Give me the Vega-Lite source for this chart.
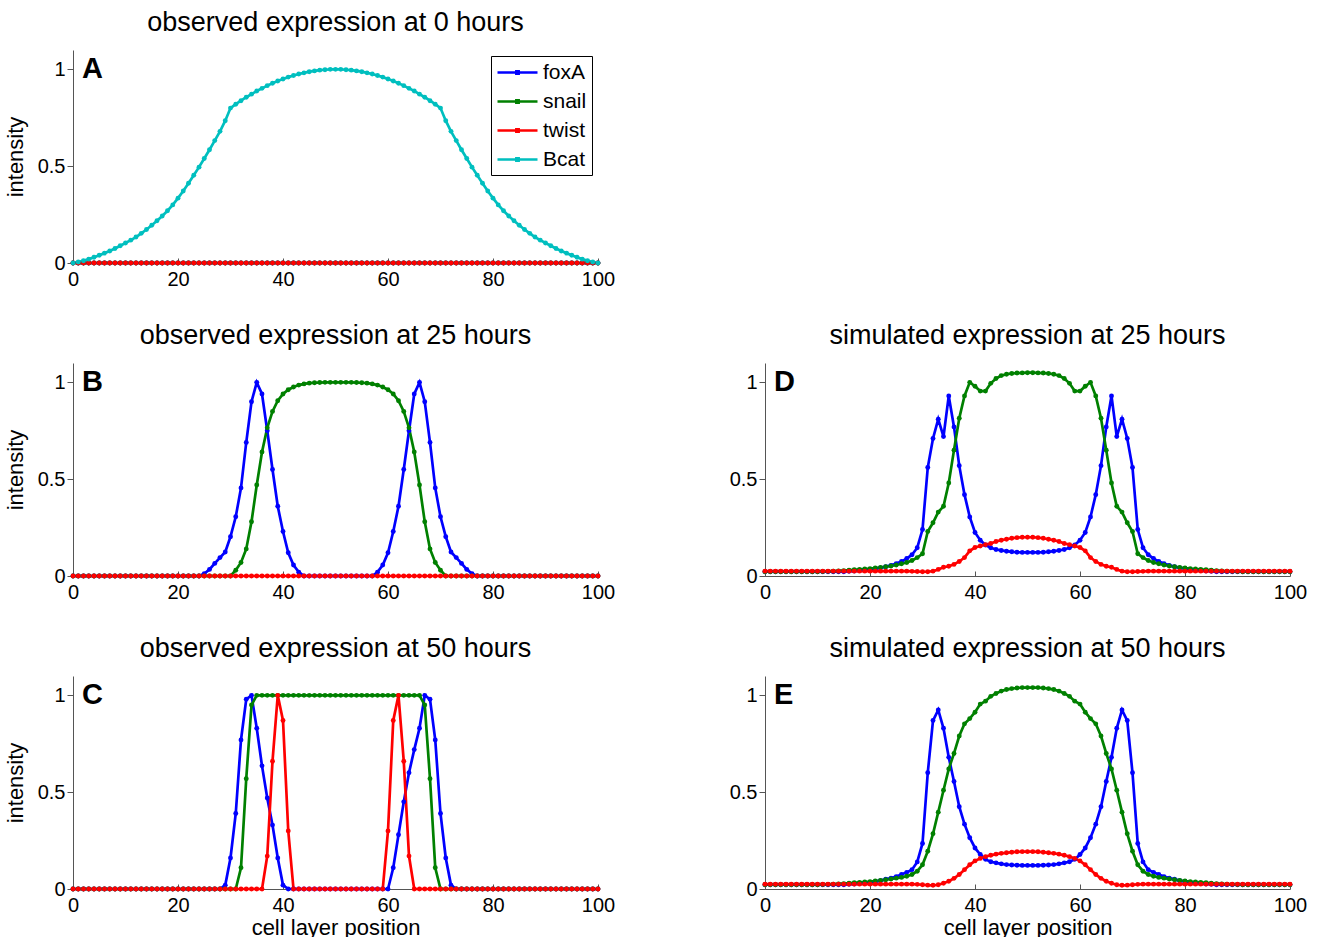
{
"$schema":"https://vega.github.io/schema/vega-lite/v6.json",
"background":"white",
"padding":{"left":4,"top":9,"right":5,"bottom":5},
"columns":2,
"spacing":{"row":100,"column":167},
"bounds":"flush",
"resolve":{"scale":{"color":"independent"},"legend":{"color":"independent"}},
"config":{
"view":{"stroke":null},
"font":"Liberation Sans",
"axis":{"grid":false,"domainColor":"#555555","tickColor":"#555555","domainWidth":1,"tickWidth":1,"labelFontSize":20,"titleFontSize":22,"titleFontWeight":"normal","labelColor":"#000","titleColor":"#000","labelFont":"Liberation Sans","titleFont":"Liberation Sans","labelFlush":false,"labelOverlap":false},
"axisX":{"tickSize":-5,"labelPadding":11,"titlePadding":2},
"axisY":{"tickSize":6,"labelPadding":2,"titlePadding":10},
"title":{"fontSize":27,"fontWeight":"normal","font":"Liberation Sans","offset":13,"color":"#000","anchor":"middle"}
},
"concat":[
{"title":"observed expression at 0 hours","width":525,"height":213,
"layer":[
{"data":{"values":[
{"x":0,"foxA":0,"snail":0,"twist":0,"Bcat":0},{"x":1,"foxA":0,"snail":0,"twist":0,"Bcat":0.005},{"x":2,"foxA":0,"snail":0,"twist":0,"Bcat":0.012},{"x":3,"foxA":0,"snail":0,"twist":0,"Bcat":0.02},{"x":4,"foxA":0,"snail":0,"twist":0,"Bcat":0.03},{"x":5,"foxA":0,"snail":0,"twist":0,"Bcat":0.04},{"x":6,"foxA":0,"snail":0,"twist":0,"Bcat":0.051},{"x":7,"foxA":0,"snail":0,"twist":0,"Bcat":0.062},{"x":8,"foxA":0,"snail":0,"twist":0,"Bcat":0.075},{"x":9,"foxA":0,"snail":0,"twist":0,"Bcat":0.089},
{"x":10,"foxA":0,"snail":0,"twist":0,"Bcat":0.103},{"x":11,"foxA":0,"snail":0,"twist":0,"Bcat":0.118},{"x":12,"foxA":0,"snail":0,"twist":0,"Bcat":0.134},{"x":13,"foxA":0,"snail":0,"twist":0,"Bcat":0.153},{"x":14,"foxA":0,"snail":0,"twist":0,"Bcat":0.173},{"x":15,"foxA":0,"snail":0,"twist":0,"Bcat":0.195},{"x":16,"foxA":0,"snail":0,"twist":0,"Bcat":0.218},{"x":17,"foxA":0,"snail":0,"twist":0,"Bcat":0.243},{"x":18,"foxA":0,"snail":0,"twist":0,"Bcat":0.27},{"x":19,"foxA":0,"snail":0,"twist":0,"Bcat":0.3},
{"x":20,"foxA":0,"snail":0,"twist":0,"Bcat":0.335},{"x":21,"foxA":0,"snail":0,"twist":0,"Bcat":0.372},{"x":22,"foxA":0,"snail":0,"twist":0,"Bcat":0.412},{"x":23,"foxA":0,"snail":0,"twist":0,"Bcat":0.453},{"x":24,"foxA":0,"snail":0,"twist":0,"Bcat":0.495},{"x":25,"foxA":0,"snail":0,"twist":0,"Bcat":0.54},{"x":26,"foxA":0,"snail":0,"twist":0,"Bcat":0.585},{"x":27,"foxA":0,"snail":0,"twist":0,"Bcat":0.632},{"x":28,"foxA":0,"snail":0,"twist":0,"Bcat":0.68},{"x":29,"foxA":0,"snail":0,"twist":0,"Bcat":0.735},
{"x":30,"foxA":0,"snail":0,"twist":0,"Bcat":0.8},{"x":31,"foxA":0,"snail":0,"twist":0,"Bcat":0.82},{"x":32,"foxA":0,"snail":0,"twist":0,"Bcat":0.838},{"x":33,"foxA":0,"snail":0,"twist":0,"Bcat":0.856},{"x":34,"foxA":0,"snail":0,"twist":0,"Bcat":0.872},{"x":35,"foxA":0,"snail":0,"twist":0,"Bcat":0.888},{"x":36,"foxA":0,"snail":0,"twist":0,"Bcat":0.902},{"x":37,"foxA":0,"snail":0,"twist":0,"Bcat":0.916},{"x":38,"foxA":0,"snail":0,"twist":0,"Bcat":0.928},{"x":39,"foxA":0,"snail":0,"twist":0,"Bcat":0.94},
{"x":40,"foxA":0,"snail":0,"twist":0,"Bcat":0.95},{"x":41,"foxA":0,"snail":0,"twist":0,"Bcat":0.96},{"x":42,"foxA":0,"snail":0,"twist":0,"Bcat":0.968},{"x":43,"foxA":0,"snail":0,"twist":0,"Bcat":0.976},{"x":44,"foxA":0,"snail":0,"twist":0,"Bcat":0.982},{"x":45,"foxA":0,"snail":0,"twist":0,"Bcat":0.988},{"x":46,"foxA":0,"snail":0,"twist":0,"Bcat":0.992},{"x":47,"foxA":0,"snail":0,"twist":0,"Bcat":0.996},{"x":48,"foxA":0,"snail":0,"twist":0,"Bcat":0.998},{"x":49,"foxA":0,"snail":0,"twist":0,"Bcat":1},
{"x":50,"foxA":0,"snail":0,"twist":0,"Bcat":1},{"x":51,"foxA":0,"snail":0,"twist":0,"Bcat":1},{"x":52,"foxA":0,"snail":0,"twist":0,"Bcat":0.998},{"x":53,"foxA":0,"snail":0,"twist":0,"Bcat":0.996},{"x":54,"foxA":0,"snail":0,"twist":0,"Bcat":0.992},{"x":55,"foxA":0,"snail":0,"twist":0,"Bcat":0.988},{"x":56,"foxA":0,"snail":0,"twist":0,"Bcat":0.982},{"x":57,"foxA":0,"snail":0,"twist":0,"Bcat":0.976},{"x":58,"foxA":0,"snail":0,"twist":0,"Bcat":0.968},{"x":59,"foxA":0,"snail":0,"twist":0,"Bcat":0.96},
{"x":60,"foxA":0,"snail":0,"twist":0,"Bcat":0.95},{"x":61,"foxA":0,"snail":0,"twist":0,"Bcat":0.94},{"x":62,"foxA":0,"snail":0,"twist":0,"Bcat":0.928},{"x":63,"foxA":0,"snail":0,"twist":0,"Bcat":0.916},{"x":64,"foxA":0,"snail":0,"twist":0,"Bcat":0.902},{"x":65,"foxA":0,"snail":0,"twist":0,"Bcat":0.888},{"x":66,"foxA":0,"snail":0,"twist":0,"Bcat":0.872},{"x":67,"foxA":0,"snail":0,"twist":0,"Bcat":0.856},{"x":68,"foxA":0,"snail":0,"twist":0,"Bcat":0.838},{"x":69,"foxA":0,"snail":0,"twist":0,"Bcat":0.82},
{"x":70,"foxA":0,"snail":0,"twist":0,"Bcat":0.8},{"x":71,"foxA":0,"snail":0,"twist":0,"Bcat":0.735},{"x":72,"foxA":0,"snail":0,"twist":0,"Bcat":0.68},{"x":73,"foxA":0,"snail":0,"twist":0,"Bcat":0.632},{"x":74,"foxA":0,"snail":0,"twist":0,"Bcat":0.585},{"x":75,"foxA":0,"snail":0,"twist":0,"Bcat":0.54},{"x":76,"foxA":0,"snail":0,"twist":0,"Bcat":0.495},{"x":77,"foxA":0,"snail":0,"twist":0,"Bcat":0.453},{"x":78,"foxA":0,"snail":0,"twist":0,"Bcat":0.412},{"x":79,"foxA":0,"snail":0,"twist":0,"Bcat":0.372},
{"x":80,"foxA":0,"snail":0,"twist":0,"Bcat":0.335},{"x":81,"foxA":0,"snail":0,"twist":0,"Bcat":0.3},{"x":82,"foxA":0,"snail":0,"twist":0,"Bcat":0.27},{"x":83,"foxA":0,"snail":0,"twist":0,"Bcat":0.243},{"x":84,"foxA":0,"snail":0,"twist":0,"Bcat":0.218},{"x":85,"foxA":0,"snail":0,"twist":0,"Bcat":0.195},{"x":86,"foxA":0,"snail":0,"twist":0,"Bcat":0.173},{"x":87,"foxA":0,"snail":0,"twist":0,"Bcat":0.153},{"x":88,"foxA":0,"snail":0,"twist":0,"Bcat":0.134},{"x":89,"foxA":0,"snail":0,"twist":0,"Bcat":0.118},
{"x":90,"foxA":0,"snail":0,"twist":0,"Bcat":0.103},{"x":91,"foxA":0,"snail":0,"twist":0,"Bcat":0.089},{"x":92,"foxA":0,"snail":0,"twist":0,"Bcat":0.075},{"x":93,"foxA":0,"snail":0,"twist":0,"Bcat":0.062},{"x":94,"foxA":0,"snail":0,"twist":0,"Bcat":0.051},{"x":95,"foxA":0,"snail":0,"twist":0,"Bcat":0.04},{"x":96,"foxA":0,"snail":0,"twist":0,"Bcat":0.03},{"x":97,"foxA":0,"snail":0,"twist":0,"Bcat":0.02},{"x":98,"foxA":0,"snail":0,"twist":0,"Bcat":0.012},{"x":99,"foxA":0,"snail":0,"twist":0,"Bcat":0.005},
{"x":100,"foxA":0,"snail":0,"twist":0,"Bcat":0}
]},
"transform":[{"fold":["foxA","snail","twist","Bcat"],"as":["gene","v"]}],
"mark":{"type":"line","strokeWidth":2.7,"point":{"filled":true,"size":24}},
"encoding":{
"x":{"field":"x","type":"quantitative","scale":{"domain":[0,100]},"axis":{"values":[0,20,40,60,80,100],"title":null}},
"y":{"field":"v","type":"quantitative","scale":{"domain":[0,1.1],"nice":false},"axis":{"values":[0,0.5,1],"format":"~g","title":"intensity"}},
"color":{"field":"gene","type":"nominal","scale":{"domain":["foxA","snail","twist","Bcat"],"range":["#0000ff","#008000","#ff0000","#00bfbf"]},
"legend":{"orient":"top-right","offset":6,"title":null,"symbolType":"M-2,0H2M-0.12,-0.12H0.12V0.12H-0.12Z","symbolSize":400,"symbolOffset":10,"symbolStrokeWidth":2.5,"labelFontSize":21,"labelFont":"Liberation Sans","labelColor":"#000","rowPadding":7,"padding":5,"strokeColor":"#000","fillColor":"#fff","labelOffset":14}}
}},
{"data":{"values":[{"label":"A"}]},"mark":{"type":"text","fontSize":29,"fontWeight":"bold","align":"left","baseline":"alphabetic","font":"Liberation Sans","color":"#000"},
"encoding":{"x":{"datum":1.7,"type":"quantitative"},"y":{"datum":0.955,"type":"quantitative"},"text":{"field":"label"}}}
]},
{"width":525,"height":213,"data":{"values":[{}]},"mark":{"type":"point","opacity":0},"encoding":{}},
{"title":"observed expression at 25 hours","width":525,"height":213,
"layer":[
{"data":{"values":[
{"x":0,"foxA":0,"snail":0,"twist":0},{"x":1,"foxA":0,"snail":0,"twist":0},{"x":2,"foxA":0,"snail":0,"twist":0},{"x":3,"foxA":0,"snail":0,"twist":0},{"x":4,"foxA":0,"snail":0,"twist":0},{"x":5,"foxA":0,"snail":0,"twist":0},{"x":6,"foxA":0,"snail":0,"twist":0},{"x":7,"foxA":0,"snail":0,"twist":0},{"x":8,"foxA":0,"snail":0,"twist":0},{"x":9,"foxA":0,"snail":0,"twist":0},
{"x":10,"foxA":0,"snail":0,"twist":0},{"x":11,"foxA":0,"snail":0,"twist":0},{"x":12,"foxA":0,"snail":0,"twist":0},{"x":13,"foxA":0,"snail":0,"twist":0},{"x":14,"foxA":0,"snail":0,"twist":0},{"x":15,"foxA":0,"snail":0,"twist":0},{"x":16,"foxA":0,"snail":0,"twist":0},{"x":17,"foxA":0,"snail":0,"twist":0},{"x":18,"foxA":0,"snail":0,"twist":0},{"x":19,"foxA":0,"snail":0,"twist":0},
{"x":20,"foxA":0,"snail":0,"twist":0},{"x":21,"foxA":0,"snail":0,"twist":0},{"x":22,"foxA":0,"snail":0,"twist":0},{"x":23,"foxA":0,"snail":0,"twist":0},{"x":24,"foxA":0,"snail":0,"twist":0},{"x":25,"foxA":0.012,"snail":0,"twist":0},{"x":26,"foxA":0.034,"snail":0,"twist":0},{"x":27,"foxA":0.065,"snail":0,"twist":0},{"x":28,"foxA":0.095,"snail":0,"twist":0},{"x":29,"foxA":0.124,"snail":0,"twist":0},
{"x":30,"foxA":0.203,"snail":0,"twist":0},{"x":31,"foxA":0.306,"snail":0.03,"twist":0},{"x":32,"foxA":0.455,"snail":0.07,"twist":0},{"x":33,"foxA":0.69,"snail":0.14,"twist":0},{"x":34,"foxA":0.9,"snail":0.28,"twist":0},{"x":35,"foxA":1,"snail":0.47,"twist":0},{"x":36,"foxA":0.94,"snail":0.64,"twist":0},{"x":37,"foxA":0.75,"snail":0.765,"twist":0},{"x":38,"foxA":0.55,"snail":0.85,"twist":0},{"x":39,"foxA":0.36,"snail":0.905,"twist":0},
{"x":40,"foxA":0.23,"snail":0.94,"twist":0},{"x":41,"foxA":0.12,"snail":0.962,"twist":0},{"x":42,"foxA":0.057,"snail":0.976,"twist":0},{"x":43,"foxA":0.02,"snail":0.986,"twist":0},{"x":44,"foxA":0,"snail":0.992,"twist":0},{"x":45,"foxA":0,"snail":0.996,"twist":0},{"x":46,"foxA":0,"snail":0.998,"twist":0},{"x":47,"foxA":0,"snail":0.999,"twist":0},{"x":48,"foxA":0,"snail":1,"twist":0},{"x":49,"foxA":0,"snail":1,"twist":0},
{"x":50,"foxA":0,"snail":1,"twist":0},{"x":51,"foxA":0,"snail":1,"twist":0},{"x":52,"foxA":0,"snail":1,"twist":0},{"x":53,"foxA":0,"snail":1,"twist":0},{"x":54,"foxA":0,"snail":0.999,"twist":0},{"x":55,"foxA":0,"snail":0.998,"twist":0},{"x":56,"foxA":0,"snail":0.996,"twist":0},{"x":57,"foxA":0,"snail":0.992,"twist":0},{"x":58,"foxA":0.02,"snail":0.986,"twist":0},{"x":59,"foxA":0.057,"snail":0.976,"twist":0},
{"x":60,"foxA":0.12,"snail":0.962,"twist":0},{"x":61,"foxA":0.23,"snail":0.94,"twist":0},{"x":62,"foxA":0.36,"snail":0.905,"twist":0},{"x":63,"foxA":0.55,"snail":0.85,"twist":0},{"x":64,"foxA":0.75,"snail":0.765,"twist":0},{"x":65,"foxA":0.94,"snail":0.64,"twist":0},{"x":66,"foxA":1,"snail":0.47,"twist":0},{"x":67,"foxA":0.9,"snail":0.28,"twist":0},{"x":68,"foxA":0.69,"snail":0.14,"twist":0},{"x":69,"foxA":0.455,"snail":0.07,"twist":0},
{"x":70,"foxA":0.306,"snail":0.03,"twist":0},{"x":71,"foxA":0.203,"snail":0,"twist":0},{"x":72,"foxA":0.124,"snail":0,"twist":0},{"x":73,"foxA":0.095,"snail":0,"twist":0},{"x":74,"foxA":0.065,"snail":0,"twist":0},{"x":75,"foxA":0.034,"snail":0,"twist":0},{"x":76,"foxA":0.012,"snail":0,"twist":0},{"x":77,"foxA":0,"snail":0,"twist":0},{"x":78,"foxA":0,"snail":0,"twist":0},{"x":79,"foxA":0,"snail":0,"twist":0},
{"x":80,"foxA":0,"snail":0,"twist":0},{"x":81,"foxA":0,"snail":0,"twist":0},{"x":82,"foxA":0,"snail":0,"twist":0},{"x":83,"foxA":0,"snail":0,"twist":0},{"x":84,"foxA":0,"snail":0,"twist":0},{"x":85,"foxA":0,"snail":0,"twist":0},{"x":86,"foxA":0,"snail":0,"twist":0},{"x":87,"foxA":0,"snail":0,"twist":0},{"x":88,"foxA":0,"snail":0,"twist":0},{"x":89,"foxA":0,"snail":0,"twist":0},
{"x":90,"foxA":0,"snail":0,"twist":0},{"x":91,"foxA":0,"snail":0,"twist":0},{"x":92,"foxA":0,"snail":0,"twist":0},{"x":93,"foxA":0,"snail":0,"twist":0},{"x":94,"foxA":0,"snail":0,"twist":0},{"x":95,"foxA":0,"snail":0,"twist":0},{"x":96,"foxA":0,"snail":0,"twist":0},{"x":97,"foxA":0,"snail":0,"twist":0},{"x":98,"foxA":0,"snail":0,"twist":0},{"x":99,"foxA":0,"snail":0,"twist":0},
{"x":100,"foxA":0,"snail":0,"twist":0}
]},
"transform":[{"fold":["foxA","snail","twist"],"as":["gene","v"]}],
"mark":{"type":"line","strokeWidth":2.7,"point":{"filled":true,"size":24}},
"encoding":{
"x":{"field":"x","type":"quantitative","scale":{"domain":[0,100]},"axis":{"values":[0,20,40,60,80,100],"title":null}},
"y":{"field":"v","type":"quantitative","scale":{"domain":[0,1.1],"nice":false},"axis":{"values":[0,0.5,1],"format":"~g","title":"intensity"}},
"color":{"field":"gene","type":"nominal","scale":{"domain":["foxA","snail","twist"],"range":["#0000ff","#008000","#ff0000"]},"legend":null}
}},
{"data":{"values":[{"label":"B"}]},"mark":{"type":"text","fontSize":29,"fontWeight":"bold","align":"left","baseline":"alphabetic","font":"Liberation Sans","color":"#000"},
"encoding":{"x":{"datum":1.7,"type":"quantitative"},"y":{"datum":0.955,"type":"quantitative"},"text":{"field":"label"}}}
]},
{"title":"simulated expression at 25 hours","width":525,"height":213,
"layer":[
{"data":{"values":[
{"x":0,"foxA":0.022,"snail":0.022,"twist":0.025},{"x":1,"foxA":0.022,"snail":0.022,"twist":0.025},{"x":2,"foxA":0.022,"snail":0.022,"twist":0.025},{"x":3,"foxA":0.022,"snail":0.022,"twist":0.025},{"x":4,"foxA":0.022,"snail":0.022,"twist":0.025},{"x":5,"foxA":0.022,"snail":0.022,"twist":0.025},{"x":6,"foxA":0.022,"snail":0.022,"twist":0.025},{"x":7,"foxA":0.022,"snail":0.022,"twist":0.025},{"x":8,"foxA":0.022,"snail":0.022,"twist":0.025},{"x":9,"foxA":0.022,"snail":0.022,"twist":0.025},
{"x":10,"foxA":0.022,"snail":0.022,"twist":0.025},{"x":11,"foxA":0.022,"snail":0.023,"twist":0.025},{"x":12,"foxA":0.022,"snail":0.024,"twist":0.025},{"x":13,"foxA":0.022,"snail":0.025,"twist":0.025},{"x":14,"foxA":0.022,"snail":0.026,"twist":0.025},{"x":15,"foxA":0.022,"snail":0.028,"twist":0.025},{"x":16,"foxA":0.024,"snail":0.03,"twist":0.025},{"x":17,"foxA":0.026,"snail":0.032,"twist":0.025},{"x":18,"foxA":0.028,"snail":0.034,"twist":0.025},{"x":19,"foxA":0.031,"snail":0.036,"twist":0.025},
{"x":20,"foxA":0.034,"snail":0.038,"twist":0.025},{"x":21,"foxA":0.038,"snail":0.041,"twist":0.025},{"x":22,"foxA":0.042,"snail":0.044,"twist":0.025},{"x":23,"foxA":0.048,"snail":0.048,"twist":0.025},{"x":24,"foxA":0.055,"snail":0.052,"twist":0.025},{"x":25,"foxA":0.064,"snail":0.057,"twist":0.025},{"x":26,"foxA":0.075,"snail":0.063,"twist":0.025},{"x":27,"foxA":0.09,"snail":0.07,"twist":0.025},{"x":28,"foxA":0.11,"snail":0.08,"twist":0.024},{"x":29,"foxA":0.146,"snail":0.095,"twist":0.023},
{"x":30,"foxA":0.24,"snail":0.115,"twist":0.022},{"x":31,"foxA":0.56,"snail":0.23,"twist":0.022},{"x":32,"foxA":0.71,"snail":0.275,"twist":0.025},{"x":33,"foxA":0.81,"snail":0.33,"twist":0.034},{"x":34,"foxA":0.72,"snail":0.36,"twist":0.045},{"x":35,"foxA":0.93,"snail":0.48,"twist":0.05},{"x":36,"foxA":0.77,"snail":0.65,"twist":0.06},{"x":37,"foxA":0.57,"snail":0.815,"twist":0.075},{"x":38,"foxA":0.42,"snail":0.93,"twist":0.095},{"x":39,"foxA":0.305,"snail":1.0,"twist":0.13},
{"x":40,"foxA":0.225,"snail":0.98,"twist":0.147},{"x":41,"foxA":0.185,"snail":0.955,"twist":0.155},{"x":42,"foxA":0.16,"snail":0.955,"twist":0.162},{"x":43,"foxA":0.146,"snail":0.995,"twist":0.168},{"x":44,"foxA":0.137,"snail":1.02,"twist":0.178},{"x":45,"foxA":0.132,"snail":1.035,"twist":0.185},{"x":46,"foxA":0.128,"snail":1.042,"twist":0.19},{"x":47,"foxA":0.125,"snail":1.046,"twist":0.195},{"x":48,"foxA":0.123,"snail":1.048,"twist":0.198},{"x":49,"foxA":0.122,"snail":1.049,"twist":0.2},
{"x":50,"foxA":0.122,"snail":1.05,"twist":0.2},{"x":51,"foxA":0.122,"snail":1.05,"twist":0.2},{"x":52,"foxA":0.122,"snail":1.049,"twist":0.198},{"x":53,"foxA":0.123,"snail":1.048,"twist":0.195},{"x":54,"foxA":0.125,"snail":1.046,"twist":0.19},{"x":55,"foxA":0.128,"snail":1.042,"twist":0.185},{"x":56,"foxA":0.132,"snail":1.035,"twist":0.178},{"x":57,"foxA":0.137,"snail":1.02,"twist":0.168},{"x":58,"foxA":0.146,"snail":0.995,"twist":0.162},{"x":59,"foxA":0.16,"snail":0.955,"twist":0.155},
{"x":60,"foxA":0.185,"snail":0.955,"twist":0.147},{"x":61,"foxA":0.225,"snail":0.98,"twist":0.13},{"x":62,"foxA":0.305,"snail":1.0,"twist":0.095},{"x":63,"foxA":0.42,"snail":0.93,"twist":0.075},{"x":64,"foxA":0.57,"snail":0.815,"twist":0.06},{"x":65,"foxA":0.77,"snail":0.65,"twist":0.05},{"x":66,"foxA":0.93,"snail":0.48,"twist":0.045},{"x":67,"foxA":0.72,"snail":0.36,"twist":0.034},{"x":68,"foxA":0.81,"snail":0.33,"twist":0.025},{"x":69,"foxA":0.71,"snail":0.275,"twist":0.022},
{"x":70,"foxA":0.56,"snail":0.23,"twist":0.022},{"x":71,"foxA":0.24,"snail":0.115,"twist":0.023},{"x":72,"foxA":0.146,"snail":0.095,"twist":0.024},{"x":73,"foxA":0.11,"snail":0.08,"twist":0.025},{"x":74,"foxA":0.09,"snail":0.07,"twist":0.025},{"x":75,"foxA":0.075,"snail":0.063,"twist":0.025},{"x":76,"foxA":0.064,"snail":0.057,"twist":0.025},{"x":77,"foxA":0.055,"snail":0.052,"twist":0.025},{"x":78,"foxA":0.048,"snail":0.048,"twist":0.025},{"x":79,"foxA":0.042,"snail":0.044,"twist":0.025},
{"x":80,"foxA":0.038,"snail":0.041,"twist":0.025},{"x":81,"foxA":0.034,"snail":0.038,"twist":0.025},{"x":82,"foxA":0.031,"snail":0.036,"twist":0.025},{"x":83,"foxA":0.028,"snail":0.034,"twist":0.025},{"x":84,"foxA":0.026,"snail":0.032,"twist":0.025},{"x":85,"foxA":0.024,"snail":0.03,"twist":0.025},{"x":86,"foxA":0.022,"snail":0.028,"twist":0.025},{"x":87,"foxA":0.022,"snail":0.026,"twist":0.025},{"x":88,"foxA":0.022,"snail":0.025,"twist":0.025},{"x":89,"foxA":0.022,"snail":0.024,"twist":0.025},
{"x":90,"foxA":0.022,"snail":0.023,"twist":0.025},{"x":91,"foxA":0.022,"snail":0.022,"twist":0.025},{"x":92,"foxA":0.022,"snail":0.022,"twist":0.025},{"x":93,"foxA":0.022,"snail":0.022,"twist":0.025},{"x":94,"foxA":0.022,"snail":0.022,"twist":0.025},{"x":95,"foxA":0.022,"snail":0.022,"twist":0.025},{"x":96,"foxA":0.022,"snail":0.022,"twist":0.025},{"x":97,"foxA":0.022,"snail":0.022,"twist":0.025},{"x":98,"foxA":0.022,"snail":0.022,"twist":0.025},{"x":99,"foxA":0.022,"snail":0.022,"twist":0.025},
{"x":100,"foxA":0.022,"snail":0.022,"twist":0.025}
]},
"transform":[{"fold":["foxA","snail","twist"],"as":["gene","v"]}],
"mark":{"type":"line","strokeWidth":2.7,"point":{"filled":true,"size":24}},
"encoding":{
"x":{"field":"x","type":"quantitative","scale":{"domain":[0,100]},"axis":{"values":[0,20,40,60,80,100],"title":null}},
"y":{"field":"v","type":"quantitative","scale":{"domain":[0,1.1],"nice":false},"axis":{"values":[0,0.5,1],"format":"~g","title":null}},
"color":{"field":"gene","type":"nominal","scale":{"domain":["foxA","snail","twist"],"range":["#0000ff","#008000","#ff0000"]},"legend":null}
}},
{"data":{"values":[{"label":"D"}]},"mark":{"type":"text","fontSize":29,"fontWeight":"bold","align":"left","baseline":"alphabetic","font":"Liberation Sans","color":"#000"},
"encoding":{"x":{"datum":1.7,"type":"quantitative"},"y":{"datum":0.955,"type":"quantitative"},"text":{"field":"label"}}}
]},
{"title":"observed expression at 50 hours","width":525,"height":213,
"layer":[
{"data":{"values":[
{"x":0,"foxA":0,"snail":0,"twist":0},{"x":1,"foxA":0,"snail":0,"twist":0},{"x":2,"foxA":0,"snail":0,"twist":0},{"x":3,"foxA":0,"snail":0,"twist":0},{"x":4,"foxA":0,"snail":0,"twist":0},{"x":5,"foxA":0,"snail":0,"twist":0},{"x":6,"foxA":0,"snail":0,"twist":0},{"x":7,"foxA":0,"snail":0,"twist":0},{"x":8,"foxA":0,"snail":0,"twist":0},{"x":9,"foxA":0,"snail":0,"twist":0},
{"x":10,"foxA":0,"snail":0,"twist":0},{"x":11,"foxA":0,"snail":0,"twist":0},{"x":12,"foxA":0,"snail":0,"twist":0},{"x":13,"foxA":0,"snail":0,"twist":0},{"x":14,"foxA":0,"snail":0,"twist":0},{"x":15,"foxA":0,"snail":0,"twist":0},{"x":16,"foxA":0,"snail":0,"twist":0},{"x":17,"foxA":0,"snail":0,"twist":0},{"x":18,"foxA":0,"snail":0,"twist":0},{"x":19,"foxA":0,"snail":0,"twist":0},
{"x":20,"foxA":0,"snail":0,"twist":0},{"x":21,"foxA":0,"snail":0,"twist":0},{"x":22,"foxA":0,"snail":0,"twist":0},{"x":23,"foxA":0,"snail":0,"twist":0},{"x":24,"foxA":0,"snail":0,"twist":0},{"x":25,"foxA":0,"snail":0,"twist":0},{"x":26,"foxA":0,"snail":0,"twist":0},{"x":27,"foxA":0,"snail":0,"twist":0},{"x":28,"foxA":0,"snail":0,"twist":0},{"x":29,"foxA":0.02,"snail":0,"twist":0},
{"x":30,"foxA":0.16,"snail":0,"twist":0},{"x":31,"foxA":0.39,"snail":0,"twist":0},{"x":32,"foxA":0.77,"snail":0.11,"twist":0},{"x":33,"foxA":0.98,"snail":0.57,"twist":0},{"x":34,"foxA":1,"snail":0.95,"twist":0},{"x":35,"foxA":0.83,"snail":1,"twist":0},{"x":36,"foxA":0.636,"snail":1,"twist":0},{"x":37,"foxA":0.47,"snail":1,"twist":0.17},{"x":38,"foxA":0.33,"snail":1,"twist":0.66},{"x":39,"foxA":0.16,"snail":1,"twist":1},
{"x":40,"foxA":0.02,"snail":1,"twist":0.87},{"x":41,"foxA":0,"snail":1,"twist":0.3},{"x":42,"foxA":0,"snail":1,"twist":0},{"x":43,"foxA":0,"snail":1,"twist":0},{"x":44,"foxA":0,"snail":1,"twist":0},{"x":45,"foxA":0,"snail":1,"twist":0},{"x":46,"foxA":0,"snail":1,"twist":0},{"x":47,"foxA":0,"snail":1,"twist":0},{"x":48,"foxA":0,"snail":1,"twist":0},{"x":49,"foxA":0,"snail":1,"twist":0},
{"x":50,"foxA":0,"snail":1,"twist":0},{"x":51,"foxA":0,"snail":1,"twist":0},{"x":52,"foxA":0,"snail":1,"twist":0},{"x":53,"foxA":0,"snail":1,"twist":0},{"x":54,"foxA":0,"snail":1,"twist":0},{"x":55,"foxA":0,"snail":1,"twist":0},{"x":56,"foxA":0,"snail":1,"twist":0},{"x":57,"foxA":0,"snail":1,"twist":0},{"x":58,"foxA":0,"snail":1,"twist":0},{"x":59,"foxA":0,"snail":1,"twist":0},
{"x":60,"foxA":0,"snail":1,"twist":0.3},{"x":61,"foxA":0.11,"snail":1,"twist":0.87},{"x":62,"foxA":0.28,"snail":1,"twist":1},{"x":63,"foxA":0.45,"snail":1,"twist":0.66},{"x":64,"foxA":0.6,"snail":1,"twist":0.17},{"x":65,"foxA":0.72,"snail":1,"twist":0},{"x":66,"foxA":0.83,"snail":1,"twist":0},{"x":67,"foxA":1,"snail":0.95,"twist":0},{"x":68,"foxA":0.98,"snail":0.57,"twist":0},{"x":69,"foxA":0.77,"snail":0.11,"twist":0},
{"x":70,"foxA":0.39,"snail":0,"twist":0},{"x":71,"foxA":0.16,"snail":0,"twist":0},{"x":72,"foxA":0.02,"snail":0,"twist":0},{"x":73,"foxA":0,"snail":0,"twist":0},{"x":74,"foxA":0,"snail":0,"twist":0},{"x":75,"foxA":0,"snail":0,"twist":0},{"x":76,"foxA":0,"snail":0,"twist":0},{"x":77,"foxA":0,"snail":0,"twist":0},{"x":78,"foxA":0,"snail":0,"twist":0},{"x":79,"foxA":0,"snail":0,"twist":0},
{"x":80,"foxA":0,"snail":0,"twist":0},{"x":81,"foxA":0,"snail":0,"twist":0},{"x":82,"foxA":0,"snail":0,"twist":0},{"x":83,"foxA":0,"snail":0,"twist":0},{"x":84,"foxA":0,"snail":0,"twist":0},{"x":85,"foxA":0,"snail":0,"twist":0},{"x":86,"foxA":0,"snail":0,"twist":0},{"x":87,"foxA":0,"snail":0,"twist":0},{"x":88,"foxA":0,"snail":0,"twist":0},{"x":89,"foxA":0,"snail":0,"twist":0},
{"x":90,"foxA":0,"snail":0,"twist":0},{"x":91,"foxA":0,"snail":0,"twist":0},{"x":92,"foxA":0,"snail":0,"twist":0},{"x":93,"foxA":0,"snail":0,"twist":0},{"x":94,"foxA":0,"snail":0,"twist":0},{"x":95,"foxA":0,"snail":0,"twist":0},{"x":96,"foxA":0,"snail":0,"twist":0},{"x":97,"foxA":0,"snail":0,"twist":0},{"x":98,"foxA":0,"snail":0,"twist":0},{"x":99,"foxA":0,"snail":0,"twist":0},
{"x":100,"foxA":0,"snail":0,"twist":0}
]},
"transform":[{"fold":["foxA","snail","twist"],"as":["gene","v"]}],
"mark":{"type":"line","strokeWidth":2.7,"point":{"filled":true,"size":24}},
"encoding":{
"x":{"field":"x","type":"quantitative","scale":{"domain":[0,100]},"axis":{"values":[0,20,40,60,80,100],"title":"cell layer position"}},
"y":{"field":"v","type":"quantitative","scale":{"domain":[0,1.1],"nice":false},"axis":{"values":[0,0.5,1],"format":"~g","title":"intensity"}},
"color":{"field":"gene","type":"nominal","scale":{"domain":["foxA","snail","twist"],"range":["#0000ff","#008000","#ff0000"]},"legend":null}
}},
{"data":{"values":[{"label":"C"}]},"mark":{"type":"text","fontSize":29,"fontWeight":"bold","align":"left","baseline":"alphabetic","font":"Liberation Sans","color":"#000"},
"encoding":{"x":{"datum":1.7,"type":"quantitative"},"y":{"datum":0.955,"type":"quantitative"},"text":{"field":"label"}}}
]},
{"title":"simulated expression at 50 hours","width":525,"height":213,
"layer":[
{"data":{"values":[
{"x":0,"foxA":0.022,"snail":0.022,"twist":0.025},{"x":1,"foxA":0.022,"snail":0.022,"twist":0.025},{"x":2,"foxA":0.022,"snail":0.022,"twist":0.025},{"x":3,"foxA":0.022,"snail":0.022,"twist":0.025},{"x":4,"foxA":0.022,"snail":0.022,"twist":0.025},{"x":5,"foxA":0.022,"snail":0.022,"twist":0.025},{"x":6,"foxA":0.022,"snail":0.022,"twist":0.025},{"x":7,"foxA":0.022,"snail":0.022,"twist":0.025},{"x":8,"foxA":0.022,"snail":0.022,"twist":0.025},{"x":9,"foxA":0.022,"snail":0.022,"twist":0.025},
{"x":10,"foxA":0.022,"snail":0.022,"twist":0.025},{"x":11,"foxA":0.022,"snail":0.023,"twist":0.025},{"x":12,"foxA":0.022,"snail":0.024,"twist":0.025},{"x":13,"foxA":0.022,"snail":0.025,"twist":0.025},{"x":14,"foxA":0.022,"snail":0.026,"twist":0.025},{"x":15,"foxA":0.022,"snail":0.028,"twist":0.025},{"x":16,"foxA":0.024,"snail":0.03,"twist":0.025},{"x":17,"foxA":0.026,"snail":0.032,"twist":0.025},{"x":18,"foxA":0.028,"snail":0.034,"twist":0.025},{"x":19,"foxA":0.031,"snail":0.036,"twist":0.025},
{"x":20,"foxA":0.034,"snail":0.038,"twist":0.025},{"x":21,"foxA":0.038,"snail":0.041,"twist":0.025},{"x":22,"foxA":0.043,"snail":0.044,"twist":0.025},{"x":23,"foxA":0.05,"snail":0.048,"twist":0.025},{"x":24,"foxA":0.056,"snail":0.052,"twist":0.025},{"x":25,"foxA":0.064,"snail":0.056,"twist":0.025},{"x":26,"foxA":0.075,"snail":0.06,"twist":0.025},{"x":27,"foxA":0.086,"snail":0.066,"twist":0.025},{"x":28,"foxA":0.1,"snail":0.075,"twist":0.025},{"x":29,"foxA":0.14,"snail":0.092,"twist":0.024},
{"x":30,"foxA":0.235,"snail":0.125,"twist":0.022},{"x":31,"foxA":0.6,"snail":0.195,"twist":0.02},{"x":32,"foxA":0.87,"snail":0.285,"twist":0.019},{"x":33,"foxA":0.925,"snail":0.397,"twist":0.022},{"x":34,"foxA":0.83,"snail":0.51,"twist":0.03},{"x":35,"foxA":0.68,"snail":0.62,"twist":0.04},{"x":36,"foxA":0.555,"snail":0.7,"twist":0.055},{"x":37,"foxA":0.425,"snail":0.79,"twist":0.075},{"x":38,"foxA":0.335,"snail":0.853,"twist":0.1},{"x":39,"foxA":0.265,"snail":0.88,"twist":0.125},
{"x":40,"foxA":0.212,"snail":0.913,"twist":0.145},{"x":41,"foxA":0.178,"snail":0.955,"twist":0.158},{"x":42,"foxA":0.153,"snail":0.97,"twist":0.167},{"x":43,"foxA":0.141,"snail":0.995,"twist":0.174},{"x":44,"foxA":0.135,"snail":1.01,"twist":0.18},{"x":45,"foxA":0.13,"snail":1.022,"twist":0.184},{"x":46,"foxA":0.126,"snail":1.03,"twist":0.187},{"x":47,"foxA":0.124,"snail":1.035,"twist":0.19},{"x":48,"foxA":0.123,"snail":1.038,"twist":0.192},{"x":49,"foxA":0.122,"snail":1.04,"twist":0.193},
{"x":50,"foxA":0.122,"snail":1.04,"twist":0.193},{"x":51,"foxA":0.122,"snail":1.04,"twist":0.193},{"x":52,"foxA":0.122,"snail":1.04,"twist":0.192},{"x":53,"foxA":0.123,"snail":1.038,"twist":0.19},{"x":54,"foxA":0.124,"snail":1.035,"twist":0.187},{"x":55,"foxA":0.126,"snail":1.03,"twist":0.184},{"x":56,"foxA":0.13,"snail":1.022,"twist":0.18},{"x":57,"foxA":0.135,"snail":1.01,"twist":0.174},{"x":58,"foxA":0.141,"snail":0.995,"twist":0.167},{"x":59,"foxA":0.153,"snail":0.97,"twist":0.158},
{"x":60,"foxA":0.178,"snail":0.955,"twist":0.145},{"x":61,"foxA":0.212,"snail":0.913,"twist":0.125},{"x":62,"foxA":0.265,"snail":0.88,"twist":0.1},{"x":63,"foxA":0.335,"snail":0.853,"twist":0.075},{"x":64,"foxA":0.425,"snail":0.79,"twist":0.055},{"x":65,"foxA":0.555,"snail":0.7,"twist":0.04},{"x":66,"foxA":0.68,"snail":0.62,"twist":0.03},{"x":67,"foxA":0.83,"snail":0.51,"twist":0.022},{"x":68,"foxA":0.925,"snail":0.397,"twist":0.019},{"x":69,"foxA":0.87,"snail":0.285,"twist":0.02},
{"x":70,"foxA":0.6,"snail":0.195,"twist":0.022},{"x":71,"foxA":0.235,"snail":0.125,"twist":0.024},{"x":72,"foxA":0.14,"snail":0.092,"twist":0.025},{"x":73,"foxA":0.1,"snail":0.075,"twist":0.025},{"x":74,"foxA":0.086,"snail":0.066,"twist":0.025},{"x":75,"foxA":0.075,"snail":0.06,"twist":0.025},{"x":76,"foxA":0.064,"snail":0.056,"twist":0.025},{"x":77,"foxA":0.056,"snail":0.052,"twist":0.025},{"x":78,"foxA":0.05,"snail":0.048,"twist":0.025},{"x":79,"foxA":0.043,"snail":0.044,"twist":0.025},
{"x":80,"foxA":0.038,"snail":0.041,"twist":0.025},{"x":81,"foxA":0.034,"snail":0.038,"twist":0.025},{"x":82,"foxA":0.031,"snail":0.036,"twist":0.025},{"x":83,"foxA":0.028,"snail":0.034,"twist":0.025},{"x":84,"foxA":0.026,"snail":0.032,"twist":0.025},{"x":85,"foxA":0.024,"snail":0.03,"twist":0.025},{"x":86,"foxA":0.022,"snail":0.028,"twist":0.025},{"x":87,"foxA":0.022,"snail":0.026,"twist":0.025},{"x":88,"foxA":0.022,"snail":0.025,"twist":0.025},{"x":89,"foxA":0.022,"snail":0.024,"twist":0.025},
{"x":90,"foxA":0.022,"snail":0.023,"twist":0.025},{"x":91,"foxA":0.022,"snail":0.022,"twist":0.025},{"x":92,"foxA":0.022,"snail":0.022,"twist":0.025},{"x":93,"foxA":0.022,"snail":0.022,"twist":0.025},{"x":94,"foxA":0.022,"snail":0.022,"twist":0.025},{"x":95,"foxA":0.022,"snail":0.022,"twist":0.025},{"x":96,"foxA":0.022,"snail":0.022,"twist":0.025},{"x":97,"foxA":0.022,"snail":0.022,"twist":0.025},{"x":98,"foxA":0.022,"snail":0.022,"twist":0.025},{"x":99,"foxA":0.022,"snail":0.022,"twist":0.025},
{"x":100,"foxA":0.022,"snail":0.022,"twist":0.025}
]},
"transform":[{"fold":["foxA","snail","twist"],"as":["gene","v"]}],
"mark":{"type":"line","strokeWidth":2.7,"point":{"filled":true,"size":24}},
"encoding":{
"x":{"field":"x","type":"quantitative","scale":{"domain":[0,100]},"axis":{"values":[0,20,40,60,80,100],"title":"cell layer position"}},
"y":{"field":"v","type":"quantitative","scale":{"domain":[0,1.1],"nice":false},"axis":{"values":[0,0.5,1],"format":"~g","title":null}},
"color":{"field":"gene","type":"nominal","scale":{"domain":["foxA","snail","twist"],"range":["#0000ff","#008000","#ff0000"]},"legend":null}
}},
{"data":{"values":[{"label":"E"}]},"mark":{"type":"text","fontSize":29,"fontWeight":"bold","align":"left","baseline":"alphabetic","font":"Liberation Sans","color":"#000"},
"encoding":{"x":{"datum":1.7,"type":"quantitative"},"y":{"datum":0.955,"type":"quantitative"},"text":{"field":"label"}}}
]}
]
}
